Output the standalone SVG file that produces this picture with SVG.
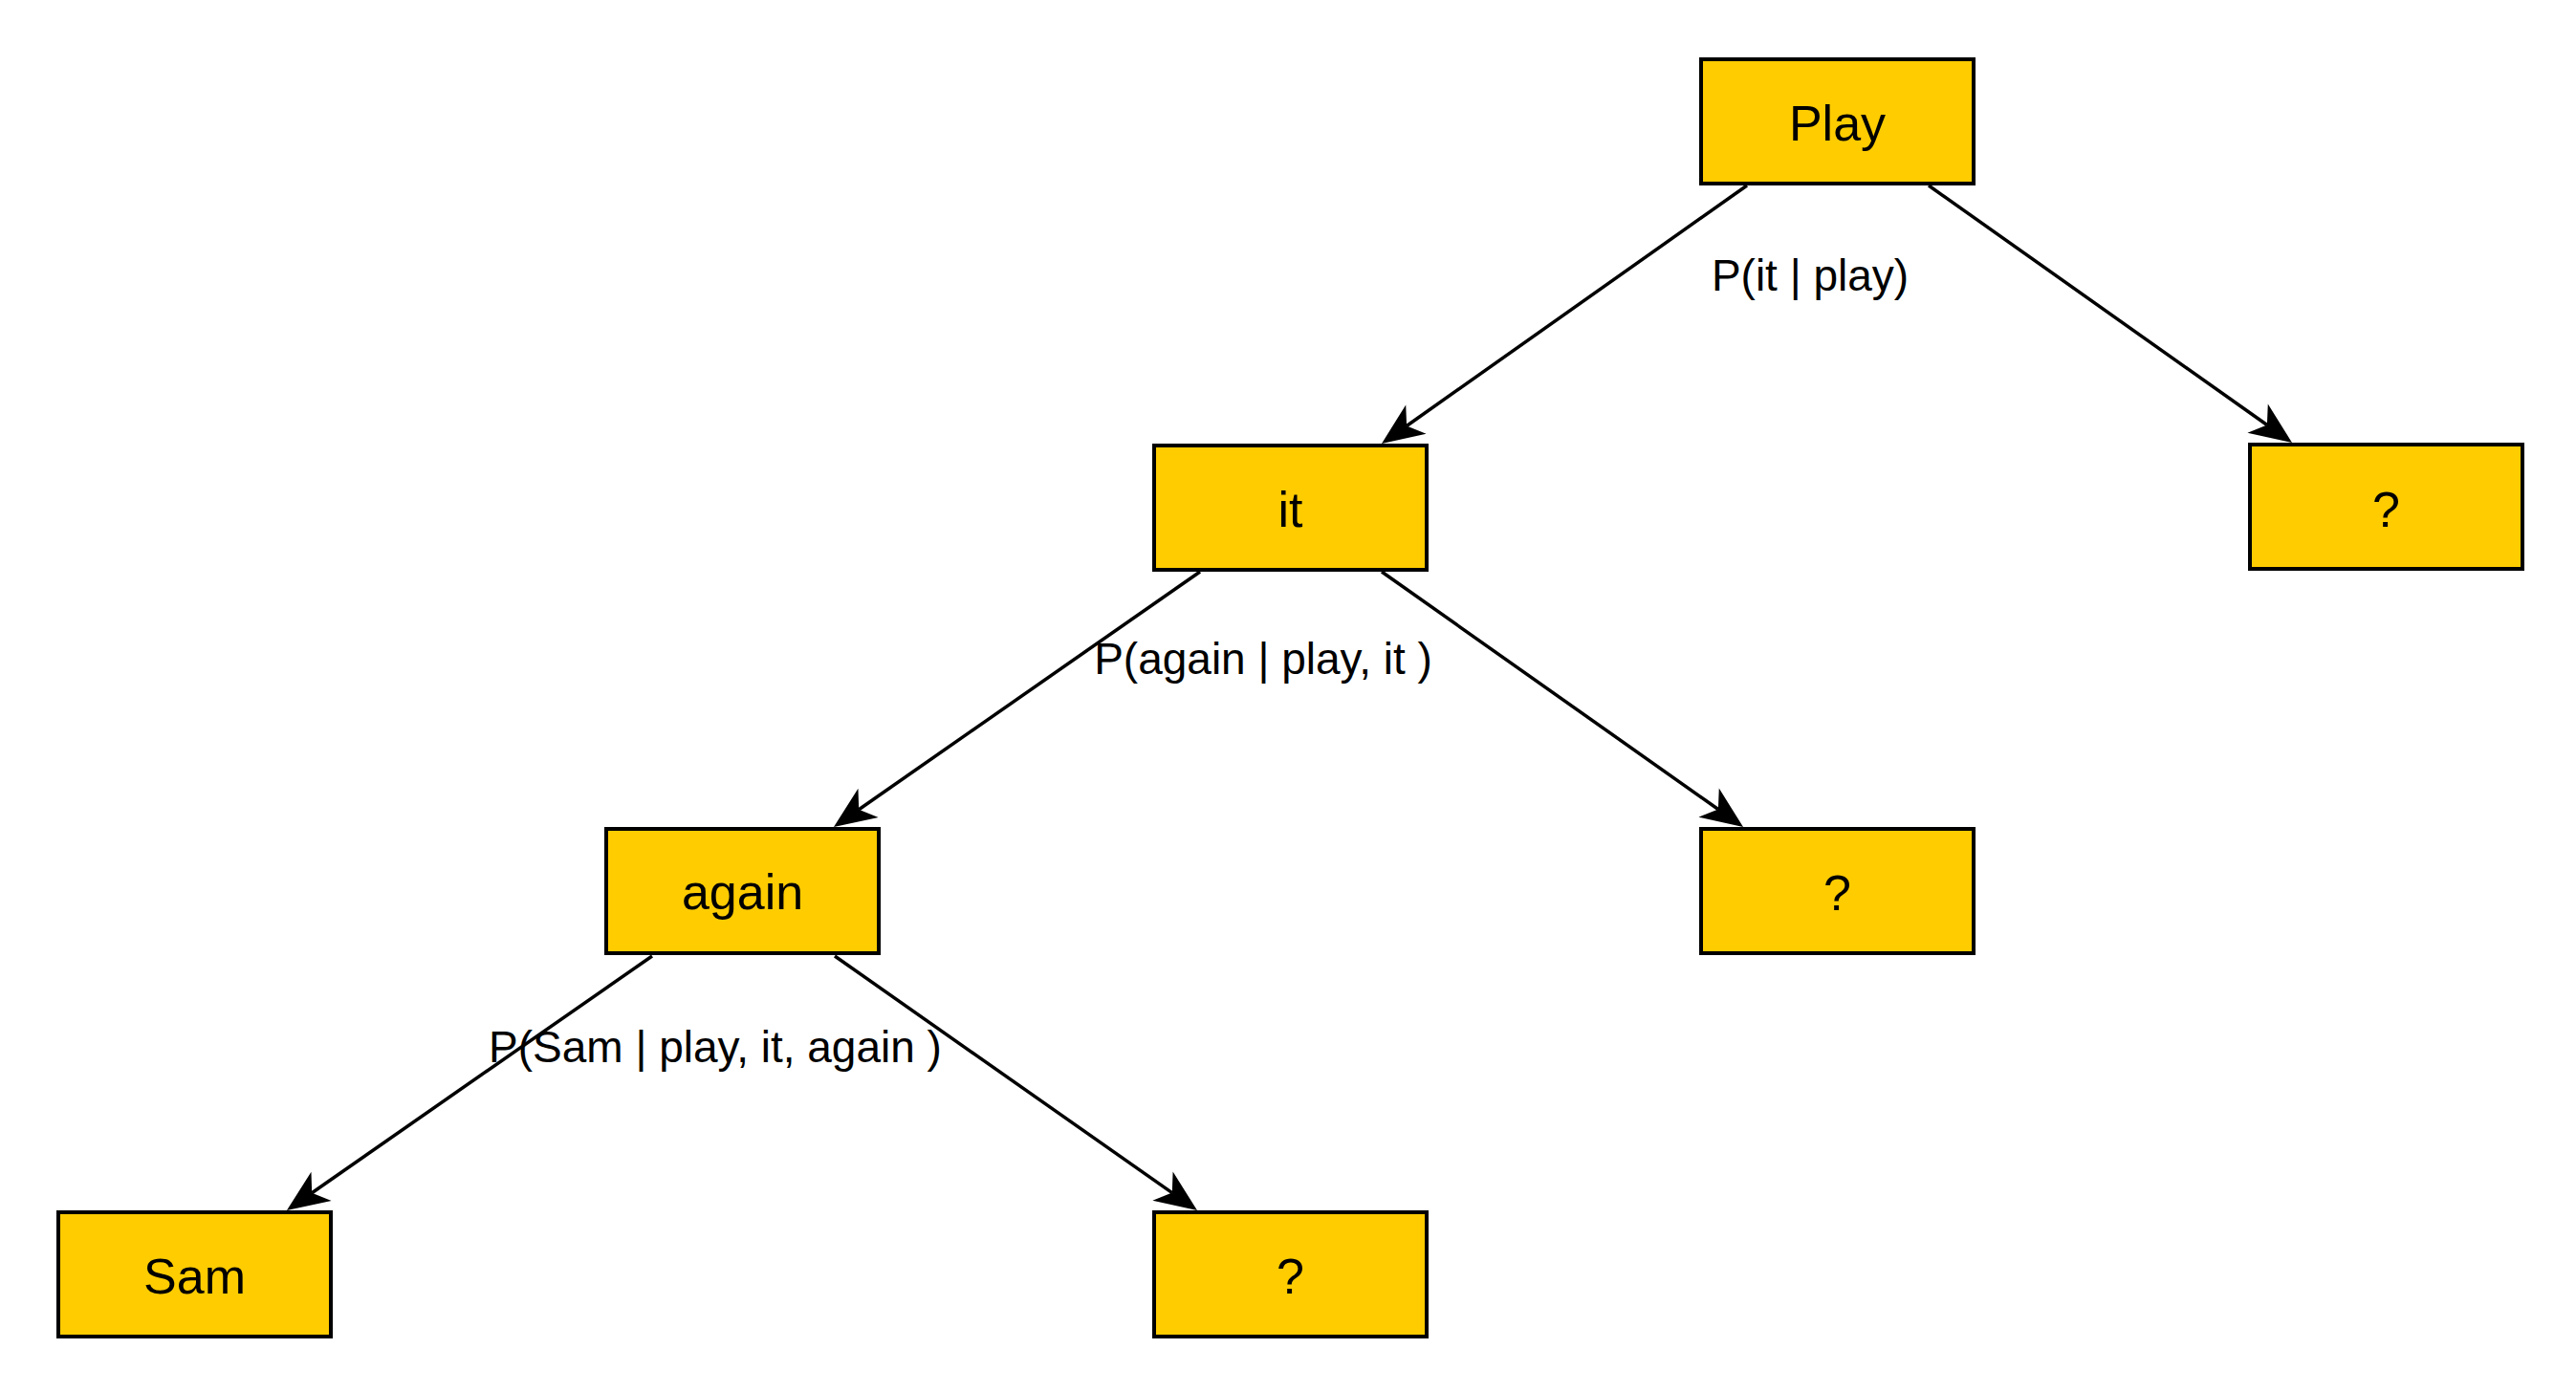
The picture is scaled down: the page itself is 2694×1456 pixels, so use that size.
<svg xmlns="http://www.w3.org/2000/svg" width="2694" height="1456" viewBox="0 0 2694 1456">
<style>
.node rect{fill:#FFCC00;stroke:#000;stroke-width:4}
.node text{font-family:"Liberation Sans",Arial,sans-serif;font-size:52px;fill:#000;text-anchor:middle}
.edge{stroke:#000;stroke-width:3.5;fill:none;marker-end:url(#arrow)}
.lbl{font-family:"Liberation Sans",Arial,sans-serif;font-size:46px;fill:#000;text-anchor:middle}
</style>
<defs>
<marker id="arrow" markerUnits="userSpaceOnUse" viewBox="-46 -20 48 40" markerWidth="48" markerHeight="40" refX="-32" refY="0" orient="auto">
<path d="M0,0 L-44,-18.5 L-32,0 L-44,18.5 Z" fill="#000"/>
</marker>
</defs>
<rect width="2694" height="1456" fill="#fff"/>
<g id="connectors">
<line class="edge" x1="1827" y1="194" x2="1471.1" y2="445.5"/>
<line class="edge" x1="2017" y1="194" x2="2370.9" y2="444.5"/>
<line class="edge" x1="1255" y1="598" x2="898.2" y2="846.7"/>
<line class="edge" x1="1445" y1="598" x2="1796.9" y2="846.5"/>
<line class="edge" x1="682" y1="1000" x2="326.2" y2="1247.7"/>
<line class="edge" x1="873" y1="1000" x2="1225.8" y2="1247.6"/>
<text class="lbl" x="1893" y="304">P(it | play)</text>
<text class="lbl" x="1321" y="705">P(again | play, it )</text>
<text class="lbl" x="748" y="1111">P(Sam | play, it, again )</text>
</g>
<g id="node-play" class="node"><rect x="1779" y="62" width="285" height="130"/><text x="1921.5" y="147">Play</text></g>
<g id="node-it" class="node"><rect x="1207" y="466" width="285" height="130"/><text x="1349.5" y="551">it</text></g>
<g id="node-q1" class="node"><rect x="2353" y="465" width="285" height="130"/><text x="2495.5" y="551">?</text></g>
<g id="node-again" class="node"><rect x="634" y="867" width="285" height="130"/><text x="776.5" y="951">again</text></g>
<g id="node-q2" class="node"><rect x="1779" y="867" width="285" height="130"/><text x="1921.5" y="952">?</text></g>
<g id="node-sam" class="node"><rect x="61" y="1268" width="285" height="130"/><text x="203.5" y="1353">Sam</text></g>
<g id="node-q3" class="node"><rect x="1207" y="1268" width="285" height="130"/><text x="1349.5" y="1353">?</text></g>
</svg>
